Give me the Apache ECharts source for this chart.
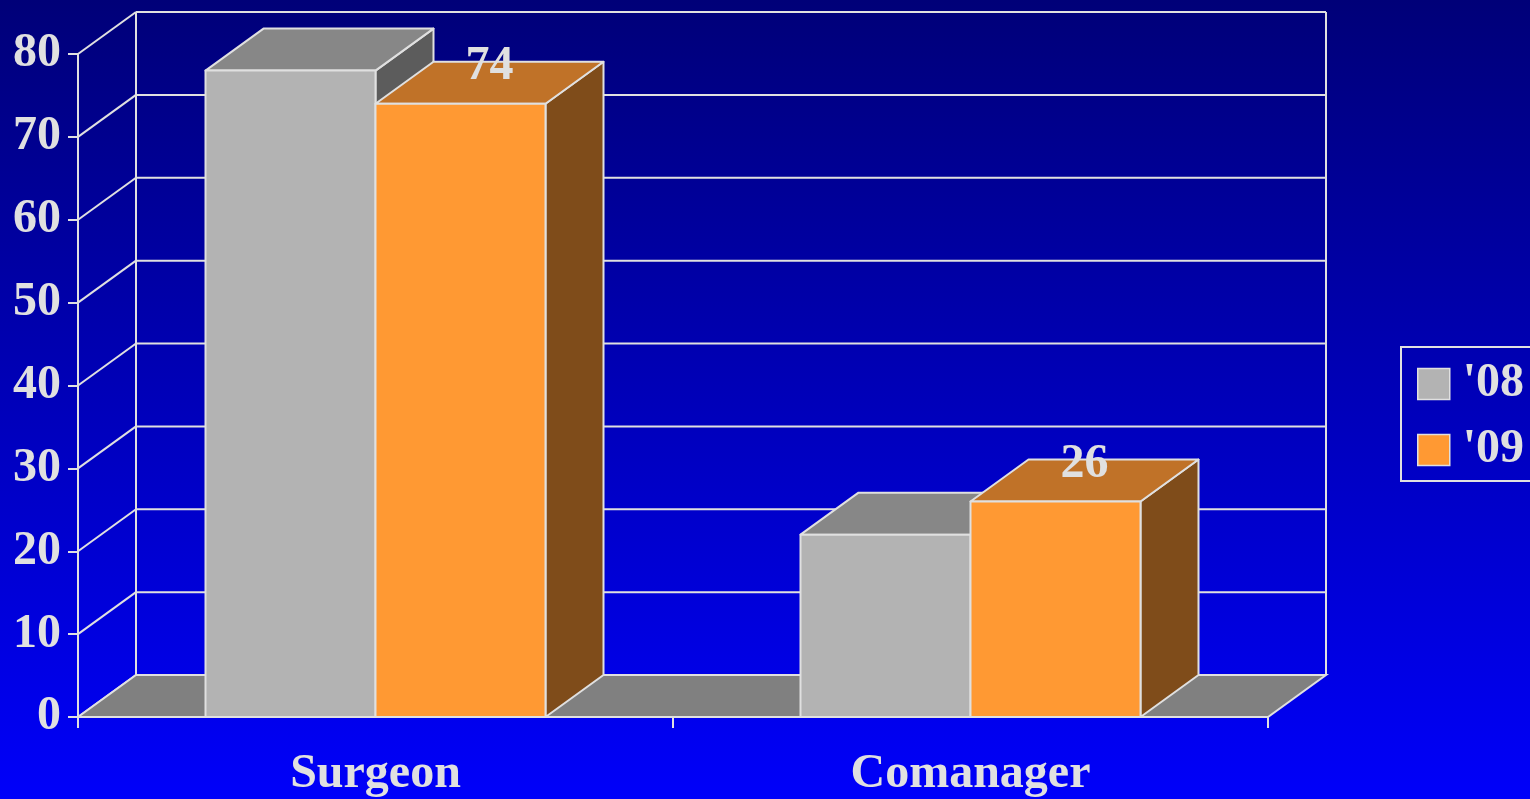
<!DOCTYPE html>
<html>
<head>
<meta charset="utf-8">
<script src="https://cdn.jsdelivr.net/npm/echarts@6/dist/echarts.min.js"></script>
<style>
  html, body { margin: 0; padding: 0; }
  #chart { width: 1530px; height: 799px; }
</style>
</head>
<body>
<div id="chart"></div>
<script>
// Chart data
const categories = ['Surgeon', 'Comanager'];
const seriesNames = ["'08", "'09"];
const values08 = [78, 22];
const values09 = [74, 26];
const gridValues = [0, 10, 20, 30, 40, 50, 60, 70, 80];

// 3D look: depth offset of the back plane, bar width as share of the category band
const DX = 58, DY = -42;
const BAR_RATIO = 170 / 595;
const LINE = '#E0E0E0';
const FONT = '"Liberation Serif", "Times New Roman", serif';
const faceColors = [
  { front: '#B3B3B3', top: '#878787', side: '#5C5C5C' },
  { front: '#FF9933', top: '#C07228', side: '#7F4C1A' }
];

const chart = echarts.init(document.getElementById('chart'));

function renderWalls(params, api) {
  const cs = params.coordSys;
  const x0 = cs.x, x1 = cs.x + cs.width;
  const children = [];
  const lineStyle = { stroke: LINE, lineWidth: 2 };
  gridValues.forEach(function (v) {
    const y = api.coord([0, v])[1];
    // left wall diagonal
    children.push({ type: 'line', shape: { x1: x0, y1: y, x2: x0 + DX, y2: y + DY }, style: lineStyle });
    // back wall line
    children.push({ type: 'line', shape: { x1: x0 + DX, y1: y + DY, x2: x1 + DX, y2: y + DY }, style: lineStyle });
  });
  const yTop = api.coord([0, gridValues[gridValues.length - 1]])[1];
  const yBase = api.coord([0, 0])[1];
  // back wall vertical edges
  children.push({ type: 'line', shape: { x1: x0 + DX, y1: yTop + DY, x2: x0 + DX, y2: yBase + DY }, style: lineStyle });
  children.push({ type: 'line', shape: { x1: x1 + DX, y1: yTop + DY, x2: x1 + DX, y2: yBase + DY }, style: lineStyle });
  // floor
  children.push({
    type: 'polygon',
    shape: { points: [[x0, yBase], [x1, yBase], [x1 + DX, yBase + DY], [x0 + DX, yBase + DY]] },
    style: { fill: '#808080', stroke: LINE, lineWidth: 2 }
  });
  return { type: 'group', children: children };
}

function makeBarRenderer(seriesIdx, showLabel) {
  return function (params, api) {
    const cat = api.value(0), v = api.value(1);
    const base = api.coord([cat, 0]);
    const top = api.coord([cat, v]);
    const w = api.size([1, 0])[0] * BAR_RATIO;
    const xa = seriesIdx === 0 ? base[0] - w : base[0];
    const xb = xa + w;
    const yb = base[1], yt = top[1];
    const c = faceColors[seriesIdx];
    const stroke = { stroke: LINE, lineWidth: 2, lineJoin: 'round' };
    const children = [
      { type: 'polygon', shape: { points: [[xb, yt], [xb + DX, yt + DY], [xb + DX, yb + DY], [xb, yb]] },
        style: Object.assign({ fill: c.side }, stroke) },
      { type: 'polygon', shape: { points: [[xa, yt], [xb, yt], [xb + DX, yt + DY], [xa + DX, yt + DY]] },
        style: Object.assign({ fill: c.top }, stroke) },
      { type: 'rect', shape: { x: xa, y: yt, width: w, height: yb - yt },
        style: Object.assign({ fill: c.front }, stroke) }
    ];
    if (showLabel) {
      children.push({
        type: 'text',
        style: {
          text: String(v),
          x: (xa + xb) / 2 + DX / 2,
          y: yt + DY + 5,
          align: 'center',
          verticalAlign: 'middle',
          font: 'bold 48px ' + FONT,
          fill: LINE
        }
      });
    }
    return { type: 'group', children: children };
  };
}

const option = {
  animation: false,
  backgroundColor: {
    type: 'linear', x: 0, y: 0, x2: 0, y2: 1,
    colorStops: [{ offset: 0, color: '#000078' }, { offset: 1, color: '#0000FA' }]
  },
  grid: { left: 78, top: 54, width: 1190, height: 666, containLabel: false },
  legend: {
    left: 1401, top: 347,
    orient: 'vertical',
    padding: [9, 12, 3, 16],
    itemGap: 10,
    itemWidth: 32, itemHeight: 31,
    icon: 'rect',
    borderColor: LINE, borderWidth: 2,
    textStyle: { color: LINE, fontFamily: FONT, fontWeight: 'bold', fontSize: 48, lineHeight: 48, padding: [8, 0, 0, 8] },
    data: [
      { name: seriesNames[0], itemStyle: { color: faceColors[0].front, borderColor: LINE, borderWidth: 1.5 } },
      { name: seriesNames[1], itemStyle: { color: faceColors[1].front, borderColor: LINE, borderWidth: 1.5 } }
    ]
  },
  xAxis: {
    type: 'category',
    data: categories,
    boundaryGap: true,
    axisLine: { show: true, lineStyle: { color: LINE, width: 2 } },
    axisTick: { show: true, length: 11, lineStyle: { color: LINE, width: 2 } },
    axisLabel: { color: LINE, fontFamily: FONT, fontWeight: 'bold', fontSize: 48, lineHeight: 48, margin: 34 },
    splitLine: { show: false }
  },
  yAxis: {
    type: 'value',
    min: 0, max: 80, interval: 10,
    axisLine: { show: true, lineStyle: { color: LINE, width: 2 } },
    axisTick: { show: true, length: 10, lineStyle: { color: LINE, width: 2 } },
    axisLabel: { color: LINE, fontFamily: FONT, fontWeight: 'bold', fontSize: 48, margin: 17, padding: [10, 0, 0, 0] },
    splitLine: { show: false }
  },
  series: [
    {
      type: 'custom', name: 'walls', silent: true, z: 1,
      renderItem: renderWalls,
      data: [[0, 0]]
    },
    {
      type: 'custom', name: seriesNames[0], z: 2,
      renderItem: makeBarRenderer(0, false),
      itemStyle: { color: faceColors[0].front },
      data: values08.map(function (v, i) { return [i, v]; })
    },
    {
      type: 'custom', name: seriesNames[1], z: 3,
      renderItem: makeBarRenderer(1, true),
      itemStyle: { color: faceColors[1].front },
      data: values09.map(function (v, i) { return [i, v]; })
    }
  ]
};

chart.setOption(option);
</script>
</body>
</html>
